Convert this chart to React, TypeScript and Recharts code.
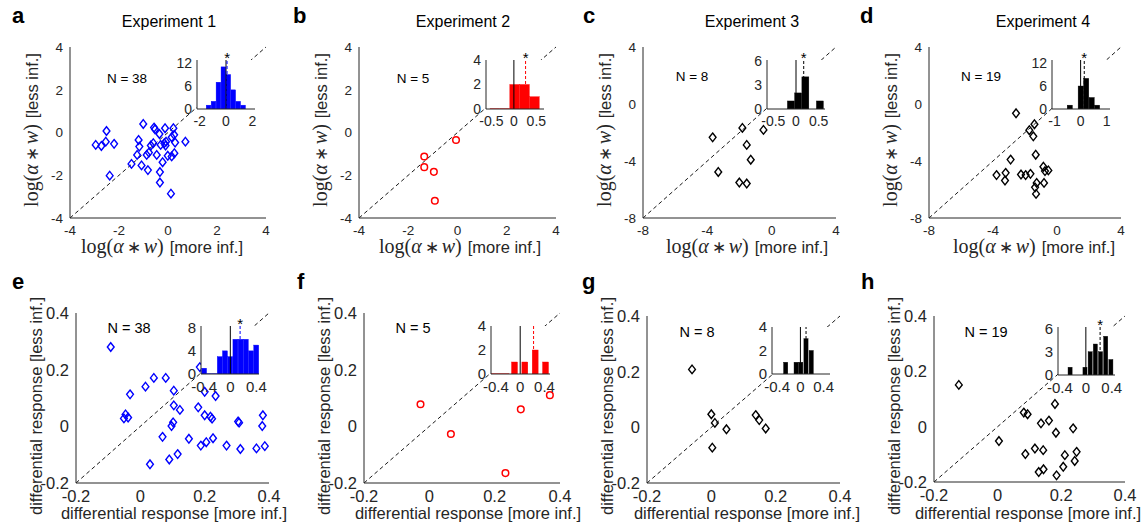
import React from 'react';
import { ScatterChart, Scatter, XAxis, YAxis, ReferenceLine, BarChart, Bar } from 'recharts';

// ---------------- DATA ----------------
// Top row: log(alpha*w) [more informative] vs [less informative]
const exp1LogMore = [-2.95,-2.72,-2.54,-2.51,-2.20,-2.38,-1.49,-1.26,-1.20,-1.17,-1.08,-1.01,-0.87,-0.78,-0.82,-0.70,-0.60,-0.57,-0.53,-0.46,-0.35,-0.33,-0.33,-0.22,-0.15,-0.12,-0.10,-0.01,0.12,0.15,0.15,0.22,0.25,0.26,0.29,-0.08,0.71,-0.30];
const exp1LogLess = [-0.58,-0.63,-0.43,0.07,-0.53,-2.02,-1.47,-1.05,-0.35,-0.66,-1.54,0.40,-1.05,-0.94,-1.76,-0.61,-0.50,0.23,0.15,-1.05,-0.07,-1.85,-2.34,-1.39,-0.50,0.20,-0.61,-1.09,-2.86,-1.12,-0.22,0.20,-0.11,-0.97,-0.47,-0.43,-0.43,-0.58];
const exp2LogMore = [-0.06,-1.35,-1.35,-0.96,-0.92];
const exp2LogLess = [-0.35,-1.12,-1.62,-1.84,-3.19];
const exp3LogMore = [-3.67,-3.32,-1.82,-1.55,-1.30,-2.01,-1.55,-0.51];
const exp3LogLess = [-2.34,-4.77,-1.68,-2.87,-3.91,-5.51,-5.58,-1.82];
const exp4LogMore = [-2.56,-1.73,-1.41,-1.48,-1.33,-2.90,-3.78,-3.21,-3.25,-2.25,-1.96,-1.66,-1.27,-1.37,-1.31,-0.85,-0.81,-0.75,-0.54];
const exp4LogLess = [-0.65,-1.84,-1.42,-2.27,-3.56,-3.90,-4.99,-4.83,-5.37,-4.95,-4.99,-4.90,-5.54,-5.85,-6.31,-4.40,-5.54,-4.71,-4.66];

// Bottom row: differential response [more inf.] vs [less inf.]
const exp1DiffMore = [-0.092,-0.051,-0.046,-0.038,-0.032,0.016,0.042,0.079,0.069,0.104,0.104,0.097,0.102,0.123,0.030,0.090,0.116,0.151,0.180,0.188,0.200,0.200,0.205,0.218,0.223,0.226,0.234,0.268,0.304,0.307,0.311,0.361,0.381,0.379,0.387,0.185,0.27,0.33];
const exp1DiffLess = [0.280,0.028,0.042,0.031,0.113,0.140,0.171,0.171,-0.037,0.126,0.074,0.001,0.014,0.058,-0.134,-0.117,-0.098,-0.044,0.067,-0.068,0.122,0.039,-0.056,0.034,0.027,-0.042,0.107,-0.068,0.017,0.013,-0.080,-0.078,0.039,0.001,-0.070,0.209,0.24,0.27];
const exp2DiffMore = [-0.027,0.066,0.233,0.280,0.369];
const exp2DiffLess = [0.078,-0.027,-0.165,0.060,0.110];
const exp3DiffMore = [-0.060,0.000,0.011,0.003,0.047,0.138,0.149,0.169];
const exp3DiffLess = [0.208,0.047,0.016,-0.073,-0.007,0.044,0.026,-0.004];
const exp4DiffMore = [-0.122,0.004,0.082,0.094,0.087,0.117,0.136,0.161,0.143,0.129,0.144,0.180,0.183,0.185,0.206,0.211,0.237,0.242,0.248];
const exp4DiffLess = [0.151,-0.052,0.051,0.045,-0.099,-0.079,0.012,0.022,-0.085,-0.164,-0.154,0.082,-0.022,-0.176,-0.145,-0.103,-0.006,-0.124,-0.091];

// Inset histograms (bin centres, counts, bin width, mean line)
const histACenters = [-1.3125,-0.9375,-0.5625,-0.1875,0.1875,0.5625,0.9375,1.3125];
const histACounts = [1,2,7,11,9,5,2,1];
const histBCenters = [-0.42,-0.20,0.02,0.24,0.46];
const histBCounts = [0,0,2,2,1];
const histCCenters = [-0.11,0.05,0.21,0.37,0.53];
const histCCounts = [1,2,4,0,1];
const histDCenters = [-0.41,-0.20,0.01,0.22,0.43,0.64];
const histDCounts = [1,0,6,8,3,1];
const histECenters = [-0.40,-0.32,-0.24,-0.16,-0.08,0,0.08,0.16,0.24,0.32,0.40];
const histECounts = [1,0,0,3,4,3,6,6,6,4,5];
const histFCenters = [-0.43,-0.26,-0.09,0.08,0.25,0.42];
const histFCounts = [0,0,1,1,2,1];
const histGCenters = [-0.25,-0.16,-0.07,0.01,0.10,0.19];
const histGCounts = [1,0,1,1,3,2];
const histHCenters = [-0.24,-0.16,-0.08,-0.01,0.07,0.15,0.23,0.31,0.39];
const histHCounts = [1,0,0,1,3,4,3,5,2];
const histBinWidths = [0.375,0.22,0.16,0.21,0.08,0.17,0.09,0.08];
const histMeans = [0.08,0.26,0.17,0.14,0.15,0.22,0.097,0.22];
const histSignificant = [true,true,true,true,true,false,false,true];

const nLabels = ['N = 38','N = 5','N = 8','N = 19','N = 38','N = 5','N = 8','N = 19'];
const titles = ['Experiment 1','Experiment 2','Experiment 3','Experiment 4'];
const panelLetters = ['a','b','c','d','e','f','g','h'];
const logTicksA = [-4,-2,0,2,4];
const logTicksC = [-8,-4,0,4];
const diffTicks = [-0.2,0,0.2,0.4];

// ---------------- STYLE / LAYOUT ----------------
const FONT = "'Liberation Sans', Arial, Helvetica, sans-serif";
const SERIF = "'Liberation Serif', 'Times New Roman', serif";
const AX = '#262626';
const BLUE = '#0000ff';
const RED = '#ff0000';
const BLACK = '#000000';

const zip = (xs: number[], ys: number[]) => xs.map((x, i) => ({ x, y: ys[i] }));
const hist = (c: number[], n: number[]) => c.map((x, i) => ({ x, n: n[i] }));

const diamond = (color: string) => (props: any) => {
  const { cx, cy } = props;
  if (cx == null || cy == null) return <g />;
  return <path d={`M${cx},${cy - 4.3}L${cx + 3.4},${cy}L${cx},${cy + 4.3}L${cx - 3.4},${cy}Z`} fill="none" stroke={color} strokeWidth={1.4} />;
};
const ring = (color: string) => (props: any) => {
  const { cx, cy } = props;
  if (cx == null || cy == null) return <g />;
  return <circle cx={cx} cy={cy} r={3.3} fill="none" stroke={color} strokeWidth={1.5} />;
};

type Box = { l: number; t: number; r: number; b: number };

function MainPanel({ plot, domain, ticks, points, shape, fontSize }: any) {
  const ML = 50, MT = 10, MR = 12, MB = 30;
  const w = plot.r - plot.l, h = plot.b - plot.t;
  const tickStyle = { fill: AX, fontSize, fontFamily: FONT };
  return (
    <div style={{ position: 'absolute', left: plot.l - ML, top: plot.t - MT, zIndex: 1 }}>
      <ScatterChart width={w + ML + MR} height={h + MT + MB} margin={{ top: MT, right: MR, bottom: 0, left: 0 }}>
        <XAxis type="number" dataKey="x" domain={domain} ticks={ticks} interval={0} height={MB}
          axisLine={{ stroke: AX }} tickLine={false} tickSize={5} tickMargin={2} tick={tickStyle} allowDataOverflow />
        <YAxis type="number" dataKey="y" domain={domain} ticks={ticks} interval={0} width={ML}
          axisLine={{ stroke: AX }} tickLine={false} tickSize={5} tickMargin={2} tick={tickStyle} allowDataOverflow />
        <ReferenceLine segment={[{ x: domain[0], y: domain[0] }, { x: domain[1], y: domain[1] }]}
          stroke={BLACK} strokeWidth={0.9} strokeDasharray="4 3" />
        <Scatter data={points} shape={shape} isAnimationActive={false} />
      </ScatterChart>
    </div>
  );
}

function Inset({ box, xDomain, yDomain, xTicks, yTicks, data, binW, barFrac, color, mean, star, fontSize, zeroLine }: any) {
  const IL = 34, IT = 14, IR = 12, IB = 22;
  const w = box.r - box.l, h = box.b - box.t;
  const pxPerUnit = w / (xDomain[1] - xDomain[0]);
  const binPx = binW * pxPerUnit;
  const barSize = Math.max(1, binPx * barFrac - 0.3);
  const tickStyle = { fill: AX, fontSize, fontFamily: FONT };
  const shape = (p: any) => {
    const { x, y, width, height, payload } = p;
    if (!payload || payload.n === 0) {
      if (!zeroLine) return <g />;
      const ext = (binPx - width) / 2;
      return <line x1={x - ext} x2={x + width + ext} y1={y + (height || 0)} y2={y + (height || 0)} stroke={color} strokeWidth={1.2} />;
    }
    return <rect x={x} y={y} width={width} height={height} fill={color} stroke={color} strokeWidth={0.4} />;
  };
  const starLabel = (p: any) => {
    const vb = p.viewBox || {};
    return <text x={vb.x} y={(vb.y || 0) + 3} textAnchor="middle" fontSize={15} fontFamily={FONT} fill={BLACK}>*</text>;
  };
  return (
    <div style={{ position: 'absolute', left: box.l - IL, top: box.t - IT, zIndex: 2 }}>
      <div style={{ position: 'absolute', left: IL, top: IT, width: w, height: h, background: '#fff' }} />
      <BarChart width={w + IL + IR} height={h + IT + IB} data={data} margin={{ top: IT, right: IR, bottom: 0, left: 0 }}
        style={{ position: 'relative' }}>
        <XAxis type="number" dataKey="x" domain={xDomain} ticks={xTicks} interval={0} height={IB}
          axisLine={{ stroke: AX }} tickLine={false} tickSize={5} tickMargin={2} tick={tickStyle} allowDataOverflow />
        <YAxis type="number" domain={yDomain} ticks={yTicks} interval={0} width={IL}
          axisLine={{ stroke: AX }} tickLine={false} tickSize={3} tickMargin={2} tick={tickStyle} allowDataOverflow />
        <Bar dataKey="n" barSize={barSize} shape={shape} isAnimationActive={false} />
        <ReferenceLine x={0} stroke={BLACK} strokeWidth={1} />
        <ReferenceLine x={mean} stroke={color} strokeWidth={1} strokeDasharray="3 2"
          label={star ? starLabel : undefined} ifOverflow="visible" />
      </BarChart>
    </div>
  );
}

function MathLabel({ x, y, rotate, suffix }: any) {
  return (
    <text x={x} y={y} textAnchor="middle" fill={AX}
      transform={rotate ? `rotate(-90 ${x} ${y})` : undefined}>
      <tspan fontFamily={SERIF} fontSize={20}>log(</tspan>
      <tspan fontFamily={SERIF} fontSize={20} fontStyle="italic">α</tspan>
      <tspan fontFamily={SERIF} fontSize={17} dx={3}>∗</tspan>
      <tspan fontFamily={SERIF} fontSize={20} fontStyle="italic" dx={3}>w</tspan>
      <tspan fontFamily={SERIF} fontSize={20}>)</tspan>
      <tspan fontFamily={FONT} fontSize={16.5} dx={6}>{suffix}</tspan>
    </text>
  );
}

const topPlots: Box[] = [
  { l: 70, t: 47, r: 266, b: 218 },
  { l: 359, t: 47, r: 556, b: 218 },
  { l: 643, t: 47, r: 836, b: 218 },
  { l: 929, t: 47, r: 1121, b: 218 },
];
const botPlots: Box[] = [
  { l: 76, t: 313, r: 269, b: 483 },
  { l: 364, t: 313, r: 560, b: 483 },
  { l: 647, t: 316, r: 840, b: 483 },
  { l: 934, t: 316, r: 1125, b: 482 },
];
const insetBoxes: Box[] = [
  { l: 197, t: 60, r: 255, b: 109 },
  { l: 486, t: 60, r: 544, b: 109 },
  { l: 767, t: 60, r: 825, b: 109 },
  { l: 1052, t: 60, r: 1110, b: 109 },
  { l: 201, t: 326, r: 259, b: 374 },
  { l: 491, t: 326, r: 550, b: 374 },
  { l: 772, t: 327, r: 830, b: 374 },
  { l: 1058, t: 327, r: 1115, b: 375 },
];

export default function App() {
  const topSets = [
    { pts: zip(exp1LogMore, exp1LogLess), shape: diamond(BLUE), domain: [-4, 4], ticks: logTicksA },
    { pts: zip(exp2LogMore, exp2LogLess), shape: ring(RED), domain: [-4, 4], ticks: logTicksA },
    { pts: zip(exp3LogMore, exp3LogLess), shape: diamond(BLACK), domain: [-8, 4], ticks: logTicksC },
    { pts: zip(exp4LogMore, exp4LogLess), shape: diamond(BLACK), domain: [-8, 4], ticks: logTicksC },
  ];
  const botSets = [
    { pts: zip(exp1DiffMore, exp1DiffLess), shape: diamond(BLUE) },
    { pts: zip(exp2DiffMore, exp2DiffLess), shape: ring(RED) },
    { pts: zip(exp3DiffMore, exp3DiffLess), shape: diamond(BLACK) },
    { pts: zip(exp4DiffMore, exp4DiffLess), shape: diamond(BLACK) },
  ];
  const insets = [
    { data: hist(histACenters, histACounts), xDomain: [-2.2, 2.2], yDomain: [0, 12.8], xTicks: [-2, 0, 2], yTicks: [0, 6, 12], color: BLUE, barFrac: 1, fs: 14, zero: false },
    { data: hist(histBCenters, histBCounts), xDomain: [-0.62, 0.67], yDomain: [0, 4], xTicks: [-0.5, 0, 0.5], yTicks: [0, 2, 4], color: RED, barFrac: 1, fs: 14, zero: true },
    { data: hist(histCCenters, histCCounts), xDomain: [-0.64, 0.64], yDomain: [0, 6.1], xTicks: [-0.5, 0, 0.5], yTicks: [0, 3, 6], color: BLACK, barFrac: 1, fs: 14, zero: false },
    { data: hist(histDCenters, histDCounts), xDomain: [-1.1, 1.13], yDomain: [0, 12.8], xTicks: [-1, 0, 1], yTicks: [0, 6, 12], color: BLACK, barFrac: 1, fs: 14, zero: false },
    { data: hist(histECenters, histECounts), xDomain: [-0.45, 0.44], yDomain: [0, 8.3], xTicks: [-0.4, 0, 0.4], yTicks: [0, 4, 8], color: BLUE, barFrac: 1, fs: 15, zero: true },
    { data: hist(histFCenters, histFCounts), xDomain: [-0.48, 0.49], yDomain: [0, 4], xTicks: [-0.4, 0, 0.4], yTicks: [0, 2, 4], color: RED, barFrac: 0.6, fs: 15, zero: true },
    { data: hist(histGCenters, histGCounts), xDomain: [-0.49, 0.51], yDomain: [0, 4], xTicks: [-0.4, 0, 0.4], yTicks: [0, 2, 4], color: BLACK, barFrac: 1, fs: 15, zero: false },
    { data: hist(histHCenters, histHCounts), xDomain: [-0.43, 0.45], yDomain: [0, 6.2], xTicks: [-0.4, 0, 0.4], yTicks: [0, 3, 6], color: BLACK, barFrac: 1, fs: 15, zero: false },
  ];
  const titleX = [169, 463, 752, 1043];
  const letterPos = [[12, 23], [293, 23], [583, 23], [860, 23], [12, 289], [297, 289], [582, 289], [861, 289]];
  const nPos = [[127, 83], [413, 83], [692, 81], [981, 81], [129, 333], [413, 333], [697, 337], [986, 337]];
  const topXLabelX = [162, 460, 747, 1034];
  const botXLabelX = [174, 468, 747, 1028];

  return (
    <div style={{ position: 'absolute', left: 0, top: 0, width: 1146, height: 527, background: '#fff', fontFamily: FONT, overflow: 'hidden' }}>
      {topSets.map((s, i) => (
        <MainPanel key={'t' + i} plot={topPlots[i]} domain={s.domain} ticks={s.ticks} points={s.pts} shape={s.shape} fontSize={13.5} />
      ))}
      {botSets.map((s, i) => (
        <MainPanel key={'b' + i} plot={botPlots[i]} domain={[-0.2, 0.4]} ticks={diffTicks} points={s.pts} shape={s.shape} fontSize={16.5} />
      ))}
      {insets.map((s, i) => (
        <Inset key={'i' + i} box={insetBoxes[i]} xDomain={s.xDomain} yDomain={s.yDomain} xTicks={s.xTicks} yTicks={s.yTicks}
          data={s.data} binW={histBinWidths[i]} barFrac={s.barFrac} color={s.color} mean={histMeans[i]}
          star={histSignificant[i]} fontSize={s.fs} zeroLine={s.zero} />
      ))}
      <svg width={1146} height={527} style={{ position: 'absolute', left: 0, top: 0, zIndex: 5, pointerEvents: 'none' }}>
        {titles.map((t, i) => (
          <text key={'ti' + i} x={titleX[i]} y={27} textAnchor="middle" fontFamily={FONT} fontSize={16} fill="#000">{t}</text>
        ))}
        {panelLetters.map((l, i) => (
          <text key={'l' + i} x={letterPos[i][0]} y={letterPos[i][1]} fontFamily={FONT} fontWeight="bold" fontSize={22} fill="#000">{l}</text>
        ))}
        {nLabels.map((t, i) => (
          <text key={'n' + i} x={nPos[i][0]} y={nPos[i][1]} textAnchor="middle" fontFamily={FONT} fontSize={i < 4 ? 13.5 : 14.5} fill="#000">{t}</text>
        ))}
        {topPlots.map((p, i) => (
          <MathLabel key={'mx' + i} x={topXLabelX[i]} y={253} suffix="[more inf.]" />
        ))}
        {topPlots.map((p, i) => (
          <MathLabel key={'my' + i} x={p.l - 32} y={130} rotate suffix="[less inf.]" />
        ))}
        {botPlots.map((p, i) => (
          <text key={'dx' + i} x={botXLabelX[i]} y={519} textAnchor="middle" fontFamily={FONT} fontSize={16.5} fill={AX}>differential response [more inf.]</text>
        ))}
        {botPlots.map((p, i) => (
          <text key={'dy' + i} x={p.l - 34} y={406} textAnchor="middle" fontFamily={FONT} fontSize={16.5} fill={AX}
            transform={`rotate(-90 ${p.l - 34} 406)`}>differential response [less inf.]</text>
        ))}
      </svg>
    </div>
  );
}
